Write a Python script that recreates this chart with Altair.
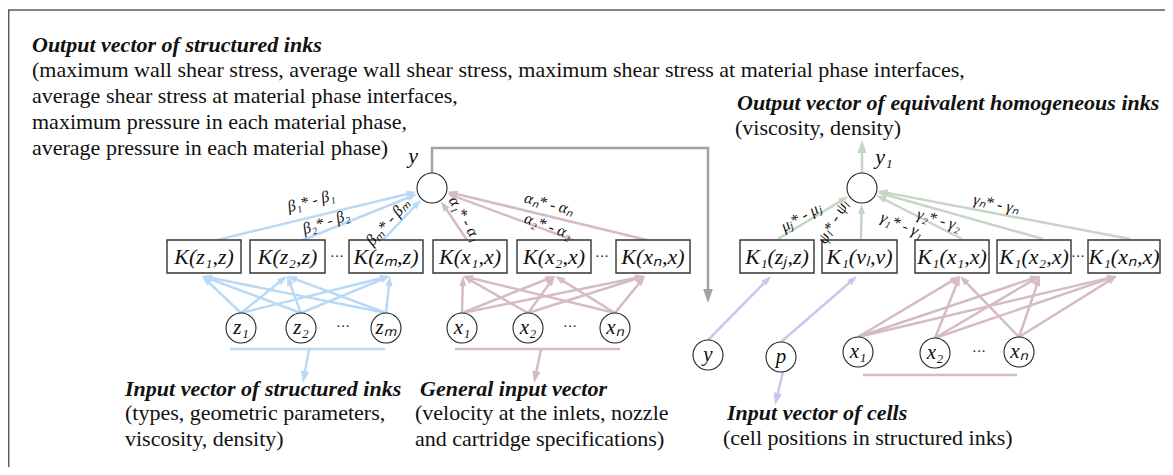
import math
import altair as alt
import pandas as pd

FONT = "Liberation Serif"

# ---------------- node data ----------------
out_node_x = [432, 862]
out_node_y = [188, 188]
out_node_r = 15

left_box_labels = ["K(z₁,z)", "K(z₂,z)", "K(zₘ,z)", "K(x₁,x)", "K(x₂,x)", "K(xₙ,x)"]
left_box_x0 = [167, 250, 349, 433, 517, 616]
left_box_x1 = [241, 325, 423, 507, 591, 690]
right_box_labels = ["K₁(zⱼ,z)", "K₁(vₗ,v)", "K₁(x₁,x)", "K₁(x₂,x)", "K₁(xₙ,x)"]
right_box_x0 = [740, 822, 915, 997, 1088]
right_box_x1 = [814, 897, 989, 1071, 1160]
box_top = 240
box_bottom = 273

in_labels = ["z₁", "z₂", "zₘ", "x₁", "x₂", "xₙ", "y", "p", "x₁", "x₂", "xₙ"]
in_x = [241, 301, 386, 462, 528, 615, 708, 781, 858, 935, 1019]
in_y = [328, 328, 328, 328, 328, 328, 355, 357, 352, 353, 352]
in_r = 15

dots_x = [337, 602, 1078, 343, 570, 979]
dots_y = [257, 257, 257, 327, 327, 352]

# edge endpoints
left_up_src_x = [217, 303, 383, 467, 573, 647]
left_up_color = ["blue", "blue", "blue", "pink", "pink", "pink"]
right_up_src_x = [778, 861, 962, 1043, 1130]

z_targets = [202, 287, 390]
x_targets = [463, 555, 645]
rx_targets = [960, 1040, 1117]
cell_targets = [771, 857]

weight_labels = ["β₁* - β₁", "β₂* - β₂", "βₘ* - βₘ", "α₁* - α₁", "α₂* - α₂", "αₙ* - αₙ",
                 "μⱼ* - μⱼ", "ψₗ* - ψₗ", "γ₁* - γ₁", "γ₂* - γ₂", "γₙ* - γₙ"]
weight_x = [311, 326, 388, 465, 548, 549, 801, 833, 902, 939, 996]
weight_y = [201, 222, 222, 219, 226, 204, 217, 222, 225, 220, 204]
weight_angle = [345, 342, 312, 60, 20, 15, 331, 300, 22, 16, 12]

# text blocks
tl_title = "Output vector of structured inks"
tl_lines = ["(maximum wall shear stress, average wall shear stress, maximum shear stress at material phase interfaces,",
            "average shear stress at material phase interfaces,",
            "maximum pressure in each material phase,",
            "average pressure in each material phase)"]
tr_title = "Output vector of equivalent homogeneous inks"
tr_lines = ["(viscosity, density)"]
bl_title = "Input vector of structured inks"
bl_lines = ["(types, geometric parameters,", "viscosity, density)"]
bm_title = "General input vector"
bm_lines = ["(velocity at the inlets, nozzle", " and cartridge specifications)"]
br_title = "Input vector of cells"
br_lines = ["(cell positions in structured inks)"]

COL = {"blue": "#b9d9f7", "pink": "#d5bcc4", "green": "#c6d5c6",
       "lav": "#c8c8ea", "gray": "#a3a3a3", "frame": "#5a5a5a"}

# ---------------- geometry helpers ----------------
seg_rows = []
head_rows = []


def line(x1, y1, x2, y2, c, w=2.5):
    seg_rows.append(dict(x=x1, y=y1, x2=x2, y2=y2, c=COL[c], w=w))


def arrow(x1, y1, x2, y2, c, w=2.5, L=10):
    dx, dy = x2 - x1, y2 - y1
    d = math.hypot(dx, dy)
    ux, uy = dx / d, dy / d
    line(x1, y1, x2 - ux * L * 0.6, y2 - uy * L * 0.6, c, w)
    ang = (math.degrees(math.atan2(dx, -dy)) + 360) % 360
    head_rows.append(dict(x=x2 - ux * L / 2, y=y2 - uy * L / 2, a=ang, c=COL[c], s=L * L))


def to_circle(sx, sy, cx, cy, r, c):
    dx, dy = sx - cx, sy - cy
    d = math.hypot(dx, dy)
    arrow(sx, sy, cx + dx / d * (r + 1), cy + dy / d * (r + 1), c)


# frame
line(8, 10, 1165, 10, "frame", 1.5)
line(8.7, 10, 8.7, 467, "frame", 1.5)

# box tops -> output circles
for sx, c in zip(left_up_src_x, left_up_color):
    to_circle(sx, box_top, out_node_x[0], out_node_y[0], out_node_r, c)
for sx in right_up_src_x:
    to_circle(sx, box_top - 1, out_node_x[1], out_node_y[1], out_node_r, "green")

# input circles -> boxes
for i in range(3):
    for t in z_targets:
        arrow(in_x[i], in_y[i] - in_r, t, box_bottom + 3, "blue")
for i in range(3, 6):
    for t in x_targets:
        arrow(in_x[i], in_y[i] - in_r, t, box_bottom + 3, "pink")
for i, t in zip([6, 7], cell_targets):
    arrow(in_x[i], in_y[i] - in_r, t, box_bottom + 3, "lav")
for i in range(8, 11):
    for t in rx_targets:
        arrow(in_x[i], in_y[i] - in_r, t, box_bottom + 3, "pink")

# group underlines and pointers
line(230, 349, 385, 349, "blue")
arrow(309, 349, 303, 383, "blue", L=12)
line(455, 349, 620, 349, "pink")
arrow(541, 349, 534, 383, "pink", L=12)
line(863, 375, 1017, 375, "pink")
arrow(783, in_y[7] + in_r, 775, 405, "lav", L=12)

# feedback path y -> input y
line(out_node_x[0], out_node_y[0] - out_node_r, out_node_x[0], 148, "gray")
line(out_node_x[0] - 1.2, 148, in_x[6] + 1.2, 148, "gray")
arrow(in_x[6], 148, in_x[6], 303, "gray", L=14)
# output arrow y1
arrow(out_node_x[1], out_node_y[1] - out_node_r, out_node_x[1], 140, "green", L=13)

seg_df = pd.DataFrame(seg_rows)
head_df = pd.DataFrame(head_rows)

XS = alt.Scale(domain=[8, 1165], zero=False, nice=False)
YS = alt.Scale(domain=[8, 467], zero=False, nice=False, reverse=True)


def X(f="x"):
    return alt.X(f"{f}:Q", scale=XS, axis=None)


def Y(f="y"):
    return alt.Y(f"{f}:Q", scale=YS, axis=None)


segs = alt.Chart(seg_df).mark_rule(strokeCap="butt").encode(
    x=X(), y=Y(), x2="x2:Q", y2="y2:Q",
    color=alt.Color("c:N", scale=None),
    strokeWidth=alt.StrokeWidth("w:Q", scale=None),
)

heads = alt.Chart(head_df).mark_point(
    shape="M0,-1L0.7,1L-0.7,1Z", filled=True, opacity=1, strokeWidth=0
).encode(
    x=X(), y=Y(),
    color=alt.Color("c:N", scale=None),
    angle=alt.Angle("a:Q", scale=None),
    size=alt.Size("s:Q", scale=None),
)

circ_df = pd.DataFrame({
    "x": out_node_x + in_x,
    "y": out_node_y + in_y,
})
circles = alt.Chart(circ_df).mark_point(
    shape="circle", filled=False, fill="white", fillOpacity=1, stroke="#222",
    strokeWidth=1.1, opacity=1, size=(2 * in_r) ** 2
).encode(x=X(), y=Y())

box_df = pd.DataFrame({
    "x": left_box_x0 + right_box_x0,
    "x2": left_box_x1 + right_box_x1,
    "y": [box_top] * 11,
    "y2": [box_bottom] * 11,
    "t": left_box_labels + right_box_labels,
})
box_df["xc"] = (box_df["x"] + box_df["x2"]) / 2
box_df["yc"] = (box_df["y"] + box_df["y2"]) / 2
boxes = alt.Chart(box_df).mark_rect(fill="white", stroke="#333", strokeWidth=1.4).encode(
    x=X(), x2="x2:Q", y=Y(), y2="y2:Q")
box_text = alt.Chart(box_df).mark_text(
    font=FONT, fontStyle="italic", fontSize=22, color="#111", baseline="middle"
).encode(x=X("xc"), y=Y("yc"), text="t:N")

in_df = pd.DataFrame({"x": in_x, "y": in_y, "t": in_labels})
in_text = alt.Chart(in_df).mark_text(
    font=FONT, fontStyle="italic", fontSize=21, color="#111", baseline="middle"
).encode(x=X(), y=Y(), text="t:N")

out_lab_df = pd.DataFrame({"x": [413, 884], "y": [156, 157], "t": ["y", "y₁"]})
out_text = alt.Chart(out_lab_df).mark_text(
    font=FONT, fontStyle="italic", fontSize=22, color="#111", baseline="middle"
).encode(x=X(), y=Y(), text="t:N")

dots_df = pd.DataFrame({"x": dots_x, "y": dots_y, "t": ["···"] * len(dots_x)})
dots = alt.Chart(dots_df).mark_text(font=FONT, fontSize=14, color="#111", baseline="middle").encode(
    x=X(), y=Y(), text="t:N")

w_df = pd.DataFrame({"x": weight_x, "y": weight_y, "t": weight_labels, "a": weight_angle})
w_text = alt.Chart(w_df).mark_text(
    font=FONT, fontStyle="italic", fontSize=16, color="#111", baseline="middle"
).encode(x=X(), y=Y(), text="t:N", angle=alt.Angle("a:Q", scale=None))

title_df = pd.DataFrame({
    "x": [32, 737, 125, 420, 727],
    "y": [45, 103, 389, 389, 413],
    "t": [tl_title, tr_title, bl_title, bm_title, br_title],
})
titles = alt.Chart(title_df).mark_text(
    font=FONT, fontStyle="italic", fontWeight="bold", fontSize=22, color="#111",
    align="left", baseline="middle"
).encode(x=X(), y=Y(), text="t:N")

body_df = pd.DataFrame({
    "x": [32] * 4 + [735] + [125, 125] + [415, 415] + [723],
    "y": [70, 96, 122, 148] + [128] + [413, 439] + [413, 439] + [438],
    "t": tl_lines + tr_lines + bl_lines + bm_lines + br_lines,
})
body = alt.Chart(body_df).mark_text(
    font=FONT, fontSize=22, color="#111", align="left", baseline="middle"
).encode(x=X(), y=Y(), text="t:N")

chart = alt.layer(
    segs, heads, circles, boxes, box_text, in_text, out_text, dots, w_text, titles, body
).properties(
    width=1157, height=459, padding=0, autosize=alt.AutoSizeParams(type="none"),
    background="white"
).configure_view(stroke=None)

chart.save("out.html", embed_options={"renderer": "svg", "actions": False})
